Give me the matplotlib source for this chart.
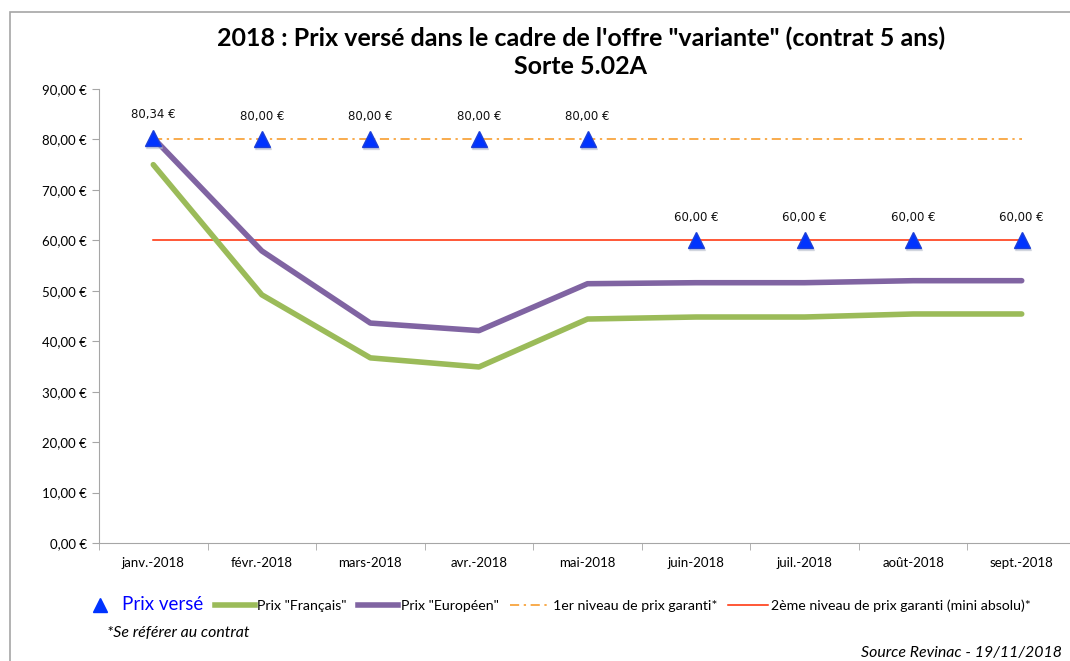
import numpy as np
import matplotlib.pyplot as plt
from matplotlib.lines import Line2D
from matplotlib.patches import Rectangle

months = ['janv.-2018', 'févr.-2018', 'mars-2018', 'avr.-2018', 'mai-2018',
          'juin-2018', 'juil.-2018', 'août-2018', 'sept.-2018']
prix_verse = [80.34, 80.00, 80.00, 80.00, 80.00, 60.00, 60.00, 60.00, 60.00]
prix_francais = [75.0, 49.2, 36.7, 34.9, 44.4, 44.8, 44.8, 45.4, 45.4]
prix_europeen = [80.3, 57.9, 43.6, 42.1, 51.4, 51.6, 51.6, 52.0, 52.0]
niveau_1 = [80.0] * 9
niveau_2 = [60.0] * 9

plt.rcParams['font.family'] = ['Lato', 'DejaVu Sans']

W, H = 1070, 661
fig = plt.figure(figsize=(W / 100, H / 100), dpi=100)
ax = fig.add_axes([99 / W, (H - 543) / H, (1076 - 99) / W, (543 - 89) / H])

x = np.arange(len(months))

# outer frame of the chart area (cropped on the right/bottom)
fig.patches.append(Rectangle((10 / W, -0.1), 1.2, (H - 12) / H + 0.1,
                             transform=fig.transFigure, fill=False,
                             edgecolor='#a6a6a6', linewidth=1.2))

ax.plot(x, niveau_2, color='#ff2a00', linewidth=1.1, zorder=2)
ax.plot(x, niveau_1, color='#f7941d', linewidth=1.1, linestyle=(0, (6, 3, 1.5, 3)), zorder=2)
ax.plot(x, prix_francais, color='#9bbb59', linewidth=4, solid_capstyle='round', zorder=3)
ax.plot(x, prix_europeen, color='#8064a2', linewidth=4, solid_capstyle='round', zorder=3)
# light shadow behind the triangles
ax.plot(x + 0.01, np.array(prix_verse) - 0.4, linestyle='none', marker='^',
        markersize=12, color='#b8bfcc', alpha=0.5, zorder=4)
ax.plot(x, prix_verse, linestyle='none', marker='^', markersize=11,
        color='#0033ff', markeredgecolor='#1c3fd8', zorder=5)

for xi, v in zip(x, prix_verse):
    ax.annotate(f'{v:.2f} €'.replace('.', ','), (xi, v), xytext=(0, 12),
                textcoords='offset points', ha='center', va='bottom',
                fontsize=8.5, family=['DejaVu Sans'], color='#111111')

ax.set_xlim(-0.5, len(months) - 0.5)
ax.set_ylim(0, 90)
ax.set_yticks(np.arange(0, 91, 10))
ax.set_yticklabels([f'{v:.2f} €'.replace('.', ',') for v in np.arange(0, 91, 10)],
                   fontsize=9.5)
ax.set_xticks(x)
ax.set_xticklabels(months, fontsize=9.5)
ax.set_xticks(np.arange(-0.5, len(months), 1), minor=True)
ax.tick_params(axis='x', which='major', length=0, pad=10)
ax.tick_params(axis='x', which='minor', length=5, color='#a6a6a6', direction='out')
ax.tick_params(axis='y', length=5, color='#a6a6a6', pad=4)
for s in ['top', 'right']:
    ax.spines[s].set_visible(False)
for s in ['left', 'bottom']:
    ax.spines[s].set_color('#a6a6a6')
ax.patch.set_alpha(0)

fig.text(581 / W, 1 - 38 / H, "2018 : Prix versé dans le cadre de l'offre \"variante\" (contrat 5 ans)",
         ha='center', va='center', fontsize=18, fontweight='bold')
fig.text(581 / W, 1 - 66 / H, 'Sorte 5.02A', ha='center', va='center',
         fontsize=18, fontweight='bold')

handles = [
    Line2D([], [], linestyle='none', marker='^', markersize=10, color='#0033ff'),
    Line2D([], [], color='#9bbb59', linewidth=4),
    Line2D([], [], color='#8064a2', linewidth=4),
    Line2D([], [], color='#f7941d', linewidth=1.1, linestyle=(0, (6, 3, 1.5, 3))),
    Line2D([], [], color='#ff2a00', linewidth=1.1),
]
labels = ['Prix versé', 'Prix "Français"', 'Prix "Européen"',
          '1er niveau de prix garanti*', '2ème niveau de prix garanti (mini absolu)*']
leg = fig.legend(handles, labels, loc='center left', bbox_to_anchor=(70 / W, 1 - 604 / H),
                 ncol=5, frameon=False, fontsize=10.2, handlelength=2.8,
                 handletextpad=0.2, columnspacing=0.8, borderpad=0.2)
leg.get_texts()[0].set_color('#0000ff')
leg.get_texts()[0].set_fontsize(13.5)

fig.text(107 / W, 1 - 633 / H, '*Se référer au contrat', fontsize=11.4,
         style='italic', ha='left', va='center')
fig.text(1062 / W, 1 - 660 / H, 'Source Revinac - 19/11/2018', fontsize=11.4,
         style='italic', ha='right', va='bottom')

fig.savefig('out.png', dpi=100)
